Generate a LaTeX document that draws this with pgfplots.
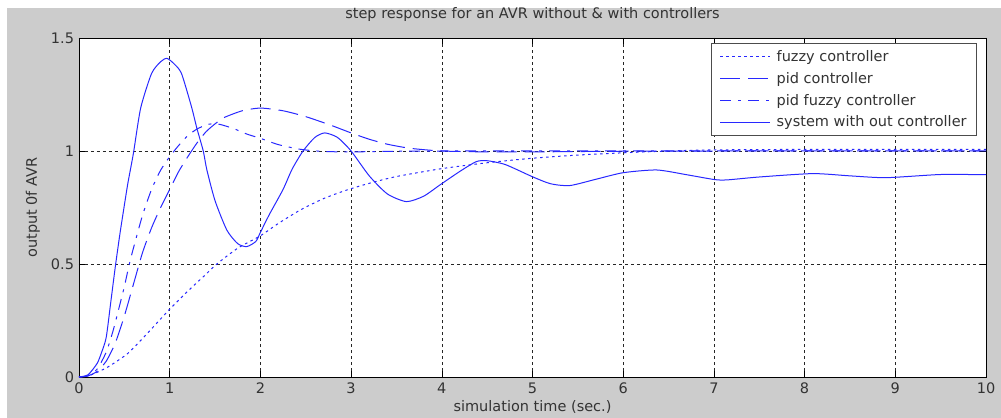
\documentclass[border=0pt]{standalone}
\usepackage{fontspec}
\setmainfont{DejaVu Sans}
\usepackage{pgfplots}
\pgfplotsset{compat=1.18}
\definecolor{figgray}{RGB}{204,204,204}
\definecolor{mblue}{RGB}{40,40,255}
\newcommand{\mfont}{\fontsize{14.5bp}{17bp}\selectfont}
\begin{document}
\begin{tikzpicture}
\useasboundingbox (-79bp,-41bp) rectangle (922bp,377bp);
\fill[white] (-79bp,-41bp) rectangle (922bp,377bp);
\fill[figgray] (-72bp,-41bp) rectangle (922bp,369bp);
\begin{axis}[
  at={(0,0)}, anchor=south west,
  scale only axis, width=907bp, height=339bp,
  xmin=0, xmax=10, ymin=0, ymax=1.5,
  xtick={0,1,...,10}, ytick={0,0.5,1,1.5},
  xticklabels={0,1,2,3,4,5,6,7,8,9,10},
  yticklabels={0,0.5,1,1.5},
  grid=major,
  major grid style={black!85, dash pattern=on 3bp off 3bp, line width=0.6bp},
  tick align=inside, major tick length=6bp,
  tick style={black, line width=0.6bp},
  axis line style={black, line width=0.8bp},
  axis background/.style={fill=white},
  tick label style={font=\mfont, text=black!80},
  xticklabel style={yshift=-2bp},
  yticklabel style={xshift=-1.5bp},
  /pgf/number format/assume math mode=true,
  title={step response for an AVR without \& with controllers},
  title style={font=\mfont, text=black!80, at={(0.5,1)}, anchor=base, yshift=14bp},
  xlabel={simulation time (sec.)},
  xlabel style={font=\mfont, text=black!80, at={(0.5,0)}, anchor=base, yshift=-34bp},
  ylabel={output 0f AVR},
  ylabel style={font=\mfont, text=black!80, at={(0,0.5)}, anchor=base, yshift=42bp},
  legend style={at={(1,1)}, anchor=north east, xshift=-9bp, yshift=-5bp,
    draw=black!70, line width=0.8bp, fill=white, font=\mfont, text=black!80,
    cells={anchor=west},
    inner xsep=8bp, inner ysep=5bp, row sep=5.3bp,
    /tikz/every odd column/.append style={column sep=4bp}},
  legend cell align=left,
  legend image code/.code={\draw[#1, line width=1bp] (0bp,0bp) -- (50bp,0bp);},
  every axis plot/.append style={mblue, line width=1bp},
]
\addplot[dash pattern=on 2.5bp off 3.5bp, smooth, tension=0.4] coordinates {
(0,0)(0.1,0.005)(0.18,0.017)(0.3,0.04)(0.4,0.065)(0.54,0.105)(0.7,0.17)(0.85,0.235)
(1.0,0.30)(1.2,0.38)(1.39,0.451)(1.52,0.50)(1.75,0.57)(2.0,0.625)(2.2,0.68)(2.44,0.739)
(2.7,0.79)(2.95,0.827)(3.2,0.857)(3.5,0.887)(4.0,0.922)(4.5,0.948)(5.0,0.968)(5.5,0.982)
(6.0,0.992)(6.5,1.0)(7.0,1.005)(8.0,1.007)(9,1.007)(10,1.007)};
\addlegendentry{fuzzy controller}
\addplot[dash pattern=on 20bp off 8bp, smooth, tension=0.4] coordinates {
(0,0)(0.1,0.005)(0.2,0.025)(0.3,0.07)(0.4,0.15)(0.5,0.27)(0.6,0.41)(0.7,0.55)(0.8,0.66)
(0.9,0.75)(1.0,0.83)(1.1,0.91)(1.2,0.975)(1.3,1.035)(1.4,1.085)(1.5,1.12)(1.6,1.148)
(1.8,1.178)(2.0,1.19)(2.25,1.178)(2.5,1.152)(2.77,1.115)(3.0,1.08)(3.2,1.052)(3.4,1.03)
(3.65,1.012)(4.0,1.0)(4.5,0.996)(5.0,0.996)(6.0,0.999)(7,1.0)(10,1.0)};
\addlegendentry{pid controller}
\addplot[dash pattern=on 11bp off 7bp on 3bp off 7bp, smooth, tension=0.4] coordinates {
(0,0)(0.1,0.005)(0.2,0.035)(0.3,0.11)(0.378,0.208)(0.45,0.32)(0.5,0.40)(0.555,0.50)
(0.6,0.57)(0.7,0.715)(0.8,0.83)(0.9,0.915)(1.0,0.975)(1.1,1.025)(1.2,1.068)(1.3,1.097)
(1.4,1.115)(1.46,1.12)(1.55,1.118)(1.7,1.10)(1.85,1.075)(2.0,1.056)(2.2,1.028)
(2.45,1.007)(2.7,0.998)(3.0,0.996)(3.5,0.999)(4.0,1.0)(10,1.0)};
\addlegendentry{pid fuzzy controller}
\addplot[solid, smooth, tension=0.4] coordinates {
(0,0)(0.1,0.01)(0.2,0.06)(0.25,0.11)(0.3,0.175)(0.35,0.33)(0.4,0.487)(0.45,0.63)
(0.5,0.76)(0.54,0.86)(0.6,0.99)(0.68,1.19)(0.8,1.343)(0.9,1.395)(0.97,1.41)(1.05,1.385)
(1.13,1.343)(1.24,1.196)(1.30,1.10)(1.37,1.00)(1.41,0.916)(1.5,0.78)(1.63,0.65)
(1.75,0.59)(1.85,0.577)(1.95,0.60)(2.0,0.64)(2.1,0.72)(2.25,0.83)(2.35,0.92)(2.47,1.0)
(2.6,1.06)(2.71,1.08)(2.85,1.06)(3.0,1.0)(3.2,0.89)(3.4,0.81)(3.61,0.776)(3.8,0.80)
(3.98,0.85)(4.2,0.91)(4.38,0.953)(4.5,0.957)(4.7,0.94)(5.0,0.886)(5.2,0.855)(5.41,0.847)
(5.7,0.875)(6.0,0.904)(6.37,0.916)(6.7,0.895)(7.0,0.874)(7.14,0.872)(7.5,0.885)
(8.09,0.90)(8.5,0.89)(8.9,0.882)(9.5,0.896)(10,0.895)};
\addlegendentry{system with out controller}
\end{axis}
\end{tikzpicture}
\end{document}
